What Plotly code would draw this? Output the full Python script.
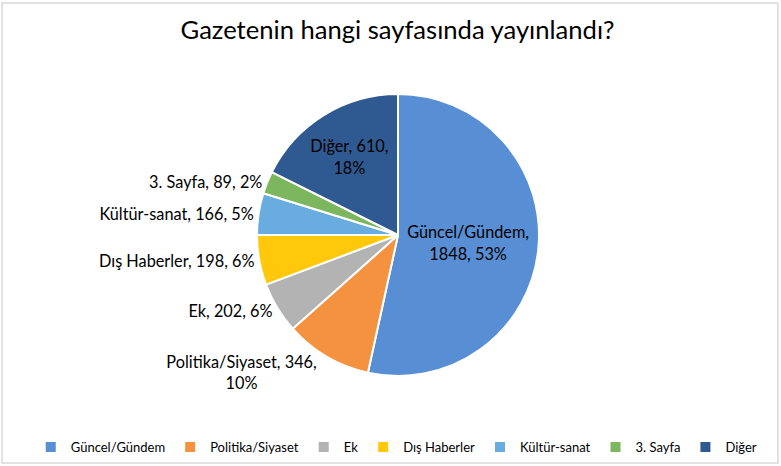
import plotly.graph_objects as go

categories = ["Güncel/Gündem", "Politika/Siyaset", "Ek", "Dış Haberler", "Kültür-sanat", "3. Sayfa", "Diğer"]
counts = [1848, 346, 202, 198, 166, 89, 610]
percents = [53, 10, 6, 6, 5, 2, 18]
colors = ["#588ED3", "#F5923F", "#B3B3B3", "#FFC80B", "#69ACDF", "#7CB65E", "#2F5A91"]
positions = ["inside", "outside", "outside", "outside", "outside", "outside", "inside"]
line_breaks = ["label", "value", "none", "none", "none", "none", "value"]

texts = []
for c, v, p, b in zip(categories, counts, percents, line_breaks):
    if b == "label":
        texts.append(f"{c},<br>{v}, {p}%")
    elif b == "value":
        texts.append(f"{c}, {v},<br>{p}%")
    else:
        texts.append(f"{c}, {v}, {p}%")

FONT = "Lato, Carlito, sans-serif"

fig = go.Figure(go.Pie(
    labels=categories,
    values=counts,
    text=texts,
    textinfo="text",
    textposition=positions,
    insidetextorientation="horizontal",
    sort=False,
    direction="clockwise",
    rotation=0,
    automargin=False,
    domain=dict(x=[0.0192, 1.0], y=[0.0, 1.0]),
    marker=dict(colors=colors, line=dict(color="white", width=2)),
    textfont=dict(family=FONT, size=16.3, color="#000000"),
    hole=0,
))

fig.update_layout(
    width=781, height=466,
    autosize=False,
    margin=dict(l=0, r=0, t=94, b=90, autoexpand=False),
    paper_bgcolor="white",
    plot_bgcolor="white",
    font=dict(family=FONT, color="#000000"),
    title=dict(text="Gazetenin hangi sayfasında yayınlandı?", x=0.509, xanchor="center",
               y=0.935, yanchor="middle", font=dict(size=25.6, color="#000000")),
    showlegend=True,
    legend=dict(orientation="h", x=0.508, xanchor="center", y=-0.252, yanchor="middle",
                font=dict(size=13, color="#000000"), itemwidth=30, tracegroupgap=0),
    shapes=[dict(type="rect", xref="paper", yref="paper", x0=0.0026, x1=0.996, y0=-0.3085, y1=1.3227,
                 line=dict(color="#D9D9D9", width=1.5), fillcolor="rgba(0,0,0,0)", layer="below")],
)

fig.write_html("out.html", config={"displayModeBar": False},
               post_script="document.body.style.margin='0';")
